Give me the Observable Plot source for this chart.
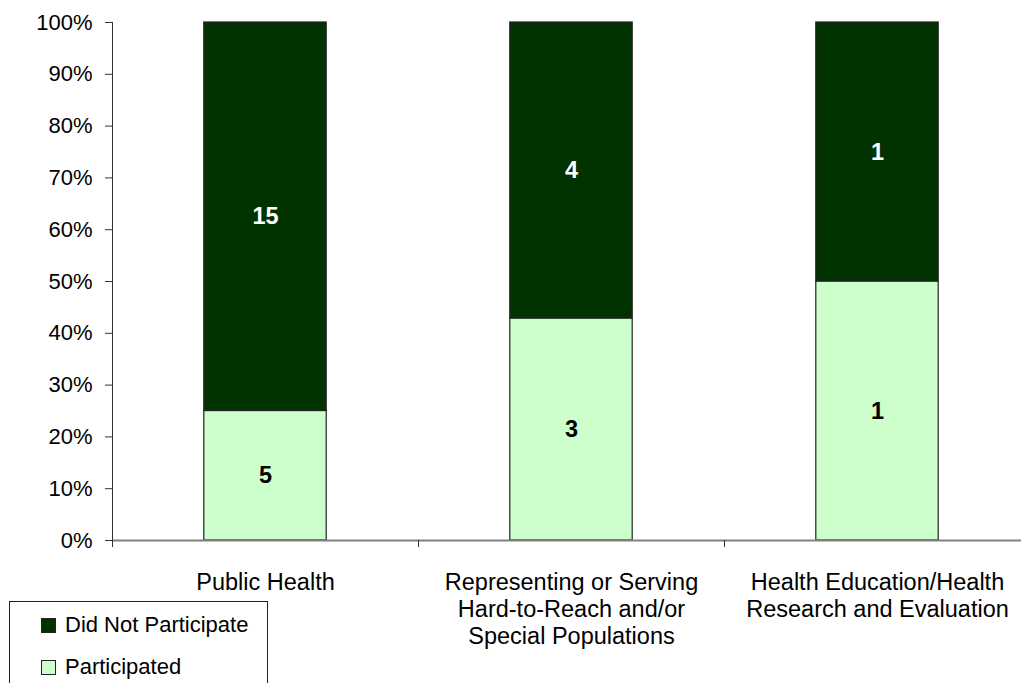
<!DOCTYPE html>
<html>
<head>
<meta charset="utf-8">
<script src="https://cdn.jsdelivr.net/npm/d3@7"></script>
<script src="https://cdn.jsdelivr.net/npm/@observablehq/plot@0.6"></script>
<style>
  html, body { margin: 0; padding: 0; background: white; }
  #wrap { position: relative; width: 1021px; height: 683px; overflow: hidden; font-family: "Liberation Sans", Arial, sans-serif; }
  #legend { position: absolute; left: 9px; top: 601px; width: 259px; height: 100px; border: 1px solid #222; box-sizing: border-box; background: white; }
  .item { position: absolute; left: 31px; display: flex; align-items: center; font-size: 22px; color: #000; }
  .sw { width: 15px; height: 15px; border: 1px solid #222; box-sizing: border-box; margin-right: 9px; }
</style>
</head>
<body>
<div id="wrap"></div>
<script>
const categories = [
  "Public Health",
  "Representing or Serving\nHard-to-Reach and/or\nSpecial Populations",
  "Health Education/Health\nResearch and Evaluation"
];
const participated = [5, 3, 1];
const didNotParticipate = [15, 4, 1];
const seriesNames = ["Participated", "Did Not Participate"];
const seriesColors = ["#CCFFCC", "#003300"];
const labelColors = ["#000000", "#FFFFFF"];
const yTicks = [0, 0.1, 0.2, 0.3, 0.4, 0.5, 0.6, 0.7, 0.8, 0.9, 1];
const legendOrder = ["Did Not Participate", "Participated"];

const rows = [];
categories.forEach((cat, i) => {
  const total = participated[i] + didNotParticipate[i];
  let base = 0;
  [participated[i], didNotParticipate[i]].forEach((v, s) => {
    const share = v / total;
    rows.push({cat, i, series: seriesNames[s], value: v, y1: base, y2: base + share});
    base += share;
  });
});

const chart = Plot.plot({
  width: 1021,
  height: 683,
  marginTop: 22,
  marginBottom: 143,
  marginLeft: 112,
  marginRight: -9,
  style: {fontFamily: "'Liberation Sans', Arial, sans-serif", background: "white", overflow: "visible", color: "#000"},
  x: {domain: [0, categories.length], range: [112, 1030], axis: null},
  y: {domain: [0, 1], axis: null},
  color: {domain: seriesNames, range: seriesColors},
  marks: [
    Plot.rectY(rows, {
      x1: d => d.i + 0.3,
      x2: d => d.i + 0.7,
      y1: "y1",
      y2: "y2",
      fill: "series",
      stroke: "#222",
      strokeWidth: 1.2
    }),
    Plot.text(rows, {
      x: d => d.i + 0.5,
      y: d => (d.y1 + d.y2) / 2,
      text: d => String(d.value),
      fill: d => labelColors[seriesNames.indexOf(d.series)],
      fontWeight: "bold",
      fontSize: 23.5
    }),
    Plot.ruleY([0], {stroke: "#808080", strokeWidth: 2}),
    Plot.ruleX([0], {stroke: "#333", strokeWidth: 1}),
    Plot.axisY({
      ticks: yTicks,
      tickFormat: d3.format(".0%"),
      tickSize: 7,
      tickPadding: 13,
      fontSize: 22,
      stroke: "#333"
    }),
    Plot.axisX({
      ticks: d3.range(categories.length + 1),
      tickSize: 7,
      tickFormat: () => "",
      stroke: "#333"
    }),
    Plot.text(categories, {
      x: (d, i) => i + 0.5,
      frameAnchor: "bottom",
      lineAnchor: "top",
      dy: 30,
      lineHeight: 1.15,
      fontSize: 23.5,
      fill: "#000"
    })
  ]
});

const wrap = document.getElementById("wrap");
wrap.appendChild(chart);

const legend = document.createElement("div");
legend.id = "legend";
legendOrder.forEach((name, k) => {
  const item = document.createElement("div");
  item.className = "item";
  item.style.top = (10 + k * 42) + "px";
  const sw = document.createElement("span");
  sw.className = "sw";
  sw.style.background = seriesColors[seriesNames.indexOf(name)];
  const t = document.createElement("span");
  t.textContent = name;
  item.appendChild(sw);
  item.appendChild(t);
  legend.appendChild(item);
});
wrap.appendChild(legend);
</script>
</body>
</html>
